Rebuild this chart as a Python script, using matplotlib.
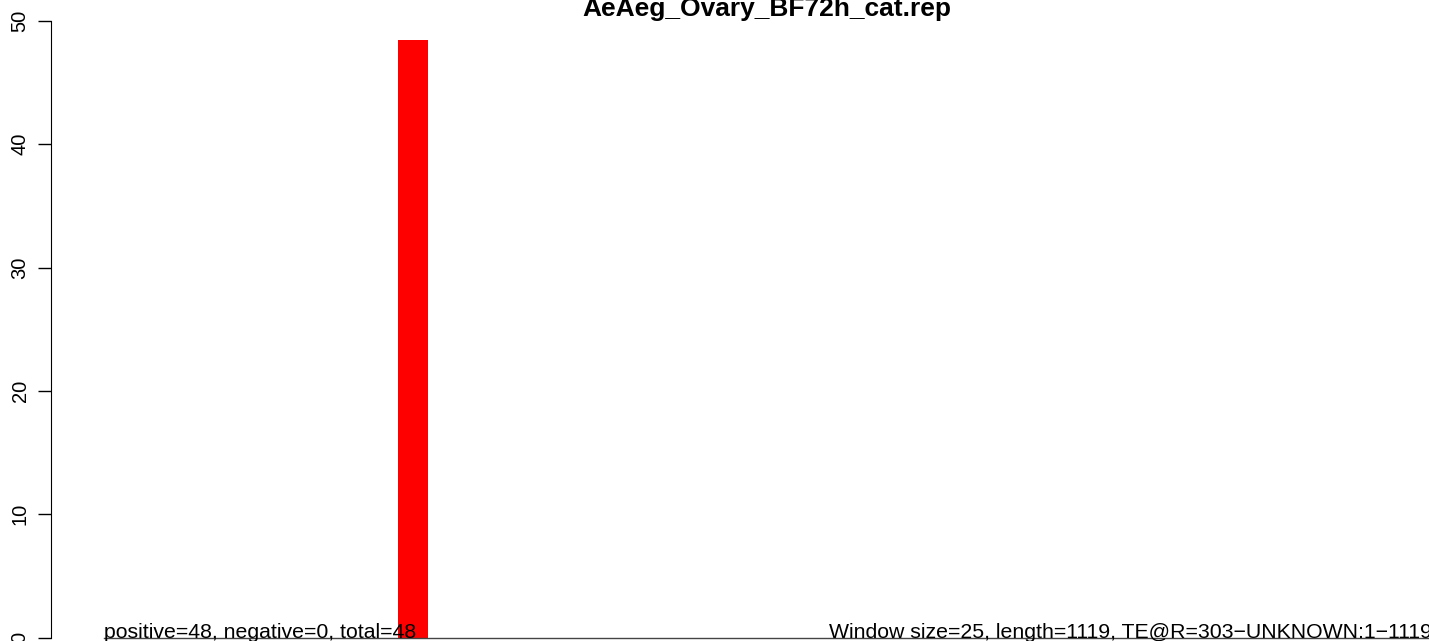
import numpy as np
import matplotlib
matplotlib.use('Agg')
import matplotlib.pyplot as plt

title = "AeAeg_Ovary_BF72h_cat.rep"
win_start = [248]
win_count = [48.4]
win_size = 25
seq_len = 1119
left_text = "positive=48, negative=0, total=48"
right_text = "Window size=25, length=1119, TE@R=303\u2212UNKNOWN:1\u22121119"
yticks = [0, 10, 20, 30, 40, 50]

plt.rcParams['font.family'] = ['Liberation Sans', 'DejaVu Sans']

W, H = 1429, 641
fig = plt.figure(figsize=(W / 100, H / 100), dpi=100)
# axes placed in pixel coords: y axis at px 51, y=0 at px 637.7, y=50 at px 20.7
x0_px, y0_px, ytop_px = 51, 637.7, 20.7
ax = fig.add_axes([x0_px / W, (H - y0_px) / H, (W - x0_px) / W, (y0_px - ytop_px) / H])
s = 1.187  # px per bp
xmin = -(104 - x0_px) / s
xmax = xmin + (W - x0_px) / s
ax.set_xlim(xmin, xmax)
ax.set_ylim(0, 50)

ax.bar(win_start, win_count, width=win_size, align='edge', color='#ff0000', linewidth=0)
ax.plot([0, seq_len], [0, 0], color='#444444', lw=1, clip_on=False)

ax.text(0, 0, left_text, ha='left', va='baseline', fontsize=15.3, clip_on=False)
ax.text(seq_len, 0, right_text, ha='right', va='baseline', fontsize=15.3, clip_on=False)

for sp in ['top', 'right', 'bottom']:
    ax.spines[sp].set_visible(False)
ax.spines['left'].set_bounds(0, 50)
ax.set_xticks([])
ax.set_yticks(yticks)
ax.set_yticklabels([str(v) for v in yticks], rotation=90, va='center', fontsize=14.5)
ax.tick_params(axis='y', length=9.4, width=1, pad=6)

fig.text(767 / W, 1 - 16 / H, title, ha='center', va='baseline', fontsize=19, fontweight='bold')

fig.savefig('out.png', dpi=100)
